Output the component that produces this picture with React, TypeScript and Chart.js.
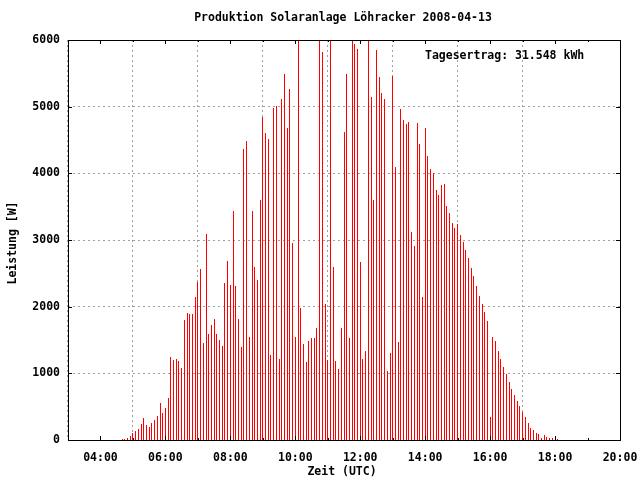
import { useEffect, useRef } from "react";
import { Chart, registerables } from "chart.js";

Chart.register(...registerables);

const titleText = "Produktion Solaranlage Löhracker 2008-04-13";
const yAxisTitle = "Leistung [W]";
const xAxisTitle = "Zeit (UTC)";
const yieldLabel = "Tagesertrag: 31.548 kWh";

const axisStart = "03:00";
const axisEnd = "20:00";
const xTickTimes = ["04:00", "06:00", "08:00", "10:00", "12:00", "14:00", "16:00", "18:00", "20:00"];
const yTickValues = [0, 1000, 2000, 3000, 4000, 5000, 6000];

const firstSampleTime = "04:40";
const sampleIntervalMin = 5;

// Leistung [W], one value every 5 minutes
const powerMorning = [
  15, 20, 35, 60, 105, 135, 165, 240, 330, 225, 195, 255, 300, 360, 555, 405, 480, 630, 1245, 1200,
  1220, 1190, 1085, 1805, 1910, 1895, 1895, 2150, 2375, 2570, 1460, 3095, 1595, 1730, 1820, 1595,
  1505, 1415, 2360, 2690, 2330,
];
const powerLateMorning = [
  3440, 2315, 1820, 1400, 4370, 4490, 1550, 3440, 2600, 2405, 3605, 4850, 4610, 4520, 1280, 4985,
  5015, 1220, 5120, 5495, 4685, 5270, 2960,
];
const powerNoon = [
  1550, 6000, 1985, 1445, 1175, 1490, 1535, 1535, 1685, 6000, 5825, 2045, 1205, 6000, 2600, 1190,
  1070, 1685, 4625, 5495, 1535, 6000,
];
const powerEarlyAfternoon = [
  5945, 5870, 2675, 1220, 1340, 6000, 5150, 3605, 5855, 5450, 5210, 5120, 1040, 1310, 5465, 4100,
  1475, 4970, 4805,
];
const powerAfternoon = [
  4745, 4775, 3125, 2915, 4760, 4445, 2150, 4685, 4265, 4070, 4010, 3755, 3680, 3830, 3845, 3515,
  3410, 3260, 3185, 3245, 3080, 2975, 2855,
];
const powerEvening = [
  2735, 2585, 2465, 2315, 2165, 2045, 1925, 1790, 350, 1540, 1490, 1340, 1220, 1100, 995, 875, 770,
  680, 590, 515, 425, 350, 260, 185, 155, 110, 95, 35, 80, 50, 35, 35, 65, 20,
];

const toMin = (t: string) => {
  const [h, m] = t.split(":").map(Number);
  return h * 60 + m;
};
const fmt = (v: number) => {
  const h = Math.floor(v / 60);
  const m = Math.round(v % 60);
  return String(h).padStart(2, "0") + ":" + String(m).padStart(2, "0");
};

const FONT = "DejaVu Sans Mono";

export default function App() {
  const ref = useRef<HTMLCanvasElement | null>(null);

  useEffect(() => {
    if (!ref.current) return;
    const values = [
      ...powerMorning,
      ...powerLateMorning,
      ...powerNoon,
      ...powerEarlyAfternoon,
      ...powerAfternoon,
      ...powerEvening,
    ];
    const t0 = toMin(firstSampleTime);
    const points = values.map((v, i) => ({ x: t0 + i * sampleIntervalMin, y: v }));

    // snap the 1px impulses to whole pixel columns so they render crisp
    const snapPlugin = {
      id: "snap",
      beforeDatasetsDraw(chart: any) {
        chart.getDatasetMeta(0).data.forEach((el: any) => {
          el.x = Math.floor(el.x) + 0.5;
          el.width = 1;
          el.y = Math.round(el.y);
          el.base = Math.round(el.base);
        });
      },
    };

    const framePlugin = {
      id: "frame",
      afterDatasetsDraw(chart: any) {
        const { ctx, chartArea } = chart;
        const { left, right, top, bottom } = chartArea;
        const xs = chart.scales.x;
        const ys = chart.scales.y;
        ctx.save();
        ctx.strokeStyle = "#000";
        ctx.lineWidth = 1;
        ctx.beginPath();
        const lo = toMin(axisStart);
        const hi = toMin(axisEnd);
        for (let m = lo + 60; m < hi; m += 60) {
          const px = Math.round(xs.getPixelForValue(m)) + 0.5;
          const len = (m - lo) % 120 === 60 ? 4 : 2;
          ctx.moveTo(px, bottom);
          ctx.lineTo(px, bottom - len);
          ctx.moveTo(px, top);
          ctx.lineTo(px, top + len);
        }
        for (const v of yTickValues) {
          const py = Math.round(ys.getPixelForValue(v)) + 0.5;
          ctx.moveTo(left, py);
          ctx.lineTo(left + 4, py);
          ctx.moveTo(right, py);
          ctx.lineTo(right - 4, py);
        }
        ctx.stroke();
        ctx.strokeRect(Math.round(left) + 0.5, Math.round(top) + 0.5, Math.round(right - left), Math.round(bottom - top));

        ctx.fillStyle = "#000";
        ctx.font = `bold 11.5px "${FONT}"`;
        ctx.textBaseline = "middle";
        ctx.textAlign = "center";
        ctx.fillText(titleText, 343, 18);
        ctx.fillText(xAxisTitle, 342, 472);
        ctx.textAlign = "left";
        ctx.fillText(yieldLabel, 425, 56);
        ctx.translate(13, 243);
        ctx.rotate(-Math.PI / 2);
        ctx.textAlign = "center";
        ctx.fillText(yAxisTitle, 0, 0);
        ctx.restore();
      },
    };

    const gridColor = "#a0a0a0";
    const chart = new Chart(ref.current, {
      type: "bar",
      data: {
        datasets: [
          {
            data: points as any,
            backgroundColor: "#ff0000",
            borderWidth: 0,
            barThickness: 1,
            inflateAmount: 0,
            grouped: false,
          } as any,
        ],
      },
      options: {
        responsive: false,
        animation: false,
        devicePixelRatio: 1,
        layout: { padding: { top: 40, right: 20, left: 0, bottom: 0 } },
        plugins: { legend: { display: false }, tooltip: { enabled: false } },
        scales: {
          x: {
            type: "linear",
            min: toMin(axisStart),
            max: toMin(axisEnd),
            offset: false,
            afterBuildTicks: (scale: any) => {
              scale.ticks = xTickTimes.map((t) => ({ value: toMin(t) }));
            },
            afterFit: (scale: any) => {
              scale.height = 40;
              scale.paddingLeft = 0;
              scale.paddingRight = 0;
            },
            ticks: {
              callback: (v: any) => fmt(Number(v)),
              color: "#000",
              font: { family: FONT, weight: "bold", size: 11.5 },
              padding: 11,
              maxRotation: 0,
              autoSkip: false,
            },
            grid: {
              drawTicks: false,
              color: (c: any) => (c.tick && c.tick.value === toMin(axisEnd) ? "rgba(0,0,0,0)" : gridColor),
            },
            border: { display: false, dash: [2, 3] },
          },
          y: {
            min: 0,
            max: 6000,
            afterBuildTicks: (scale: any) => {
              scale.ticks = yTickValues.map((v) => ({ value: v }));
            },
            afterFit: (scale: any) => {
              scale.width = 68;
              scale.paddingTop = 0;
              scale.paddingBottom = 0;
            },
            ticks: {
              callback: (v: any) => String(v),
              color: "#000",
              font: { family: FONT, weight: "bold", size: 11.5 },
              padding: 8,
              autoSkip: false,
            },
            grid: {
              drawTicks: false,
              color: (c: any) =>
                c.tick && (c.tick.value === 0 || c.tick.value === 6000) ? "rgba(0,0,0,0)" : gridColor,
            },
            border: { display: false, dash: [2, 3] },
          },
        },
      },
      plugins: [snapPlugin, framePlugin],
    });
    return () => chart.destroy();
  }, []);

  return (
    <canvas
      ref={ref}
      width={640}
      height={480}
      style={{ position: "fixed", left: 0, top: 0, width: 640, height: 480, background: "#fff" }}
    />
  );
}
